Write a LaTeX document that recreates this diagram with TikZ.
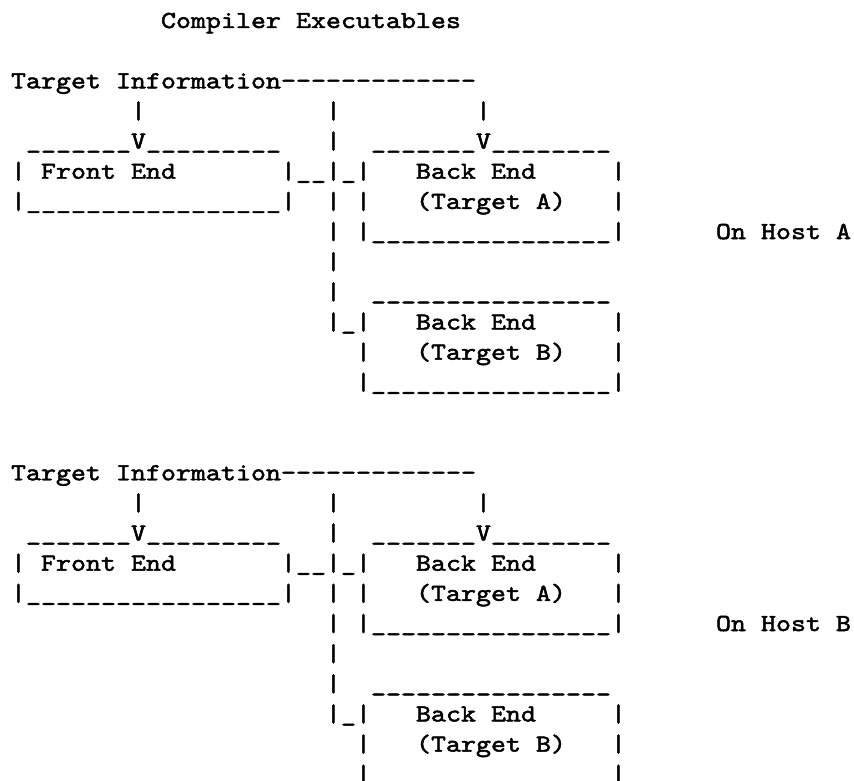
\documentclass[tikz,border=0pt]{standalone}
\usepackage{fontspec}

% typewriter face, slightly widened and darkened
\newfontfamily\typewriter{lmmono10-regular.otf}[FakeStretch=1.166, FakeBold=2]

% typewriter glyphs on a fixed character grid
\tikzset{
  glyphs/.style={anchor=base west, inner sep=0pt, outer sep=0pt,
    font=\typewriter\fontsize{24.5}{30}\selectfont},
}
% \seg{name}{row}{column}{text}
\newcommand\seg[4]{\node[glyphs] (#1) at ({11+15*(#3)}, {-28-30.15*(#2)}) {#4};}
\newcommand\unders[1]{\foreach\k in {1,...,#1}{\_}}
\newcommand\hyphens[1]{\foreach\k in {1,...,#1}{\char"2013}}

\begin{document}
\begin{tikzpicture}[x=1pt,y=1pt]
\useasboundingbox (0,0) rectangle (854,-781);

\seg{title}{0}{10}{Compiler Executables}

\foreach \b/\h in {0/A,13/B}{
  % target information feeding both front end and back ends
  \seg{target\h}{\b+2}{0}{Target Information}
  \seg{feed\h}{\b+2}{18}{\hyphens{13}}
  \seg{dropfe\h}{\b+3}{8}{|}
  \seg{droptrunk\h}{\b+3}{21}{|}
  \seg{dropbe\h}{\b+3}{31}{|}
  % box tops with arrow heads
  \seg{fetopl\h}{\b+4}{1}{\unders{7}}
  \seg{fearrow\h}{\b+4}{8}{V}
  \seg{fetopr\h}{\b+4}{9}{\unders{9}}
  \seg{trunka\h}{\b+4}{21}{|}
  \seg{batopl\h}{\b+4}{24}{\unders{7}}
  \seg{baarrow\h}{\b+4}{31}{V}
  \seg{batopr\h}{\b+4}{32}{\unders{8}}
  % front end box and link to back end A
  \seg{feleft\h}{\b+5}{0}{|}
  \seg{fe\h}{\b+5}{2}{Front End}
  \seg{feright\h}{\b+5}{18}{|}
  \seg{link\h}{\b+5}{19}{\unders{2}}
  \seg{trunkb\h}{\b+5}{21}{|}
  \seg{linka\h}{\b+5}{22}{\_}
  \seg{baleft\h}{\b+5}{23}{|}
  \seg{ba\h}{\b+5}{27}{Back End}
  \seg{baright\h}{\b+5}{40}{|}
  \seg{feleftb\h}{\b+6}{0}{|}
  \seg{febottom\h}{\b+6}{1}{\unders{17}}
  \seg{ferightb\h}{\b+6}{18}{|}
  \seg{trunkc\h}{\b+6}{21}{|}
  \seg{balefta\h}{\b+6}{23}{|}
  \seg{tga\h}{\b+6}{27}{(Target A)}
  \seg{barighta\h}{\b+6}{40}{|}
  \seg{trunkd\h}{\b+7}{21}{|}
  \seg{baleftb\h}{\b+7}{23}{|}
  \seg{babottom\h}{\b+7}{24}{\unders{16}}
  \seg{barightb\h}{\b+7}{40}{|}
  \seg{host\h}{\b+7}{47}{On Host \h}
  % trunk down to back end B
  \seg{trunke\h}{\b+8}{21}{|}
  \seg{trunkf\h}{\b+9}{21}{|}
  \seg{bbtop\h}{\b+9}{24}{\unders{16}}
  \seg{trunkg\h}{\b+10}{21}{|}
  \seg{linkb\h}{\b+10}{22}{\_}
  \seg{bbleft\h}{\b+10}{23}{|}
  \seg{bb\h}{\b+10}{27}{Back End}
  \seg{bbright\h}{\b+10}{40}{|}
  \seg{bblefta\h}{\b+11}{23}{|}
  \seg{tgb\h}{\b+11}{27}{(Target B)}
  \seg{bbrighta\h}{\b+11}{40}{|}
  \seg{bbleftb\h}{\b+12}{23}{|}
  \seg{bbbottom\h}{\b+12}{24}{\unders{16}}
  \seg{bbrightb\h}{\b+12}{40}{|}
}
\end{tikzpicture}
\end{document}
